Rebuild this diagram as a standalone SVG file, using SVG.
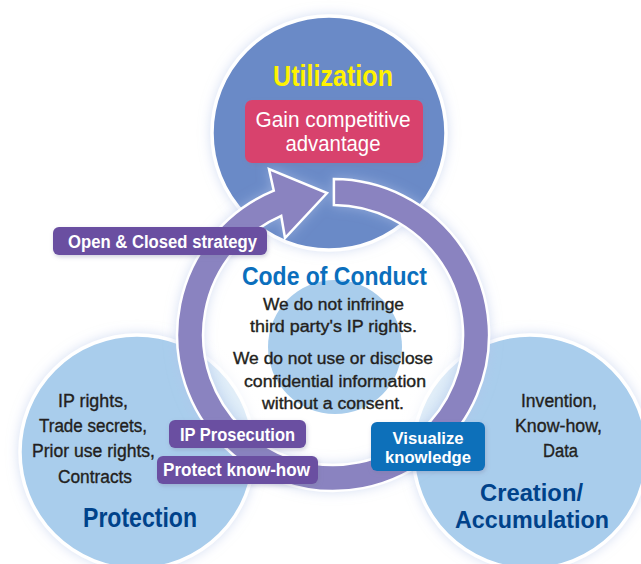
<svg xmlns="http://www.w3.org/2000/svg" width="641" height="564" viewBox="0 0 641 564">
<defs>
<style>
.t{font-family:"Liberation Sans",Arial,sans-serif;text-anchor:middle}
.b{font-weight:bold}
.body{font-size:16px;fill:#231f20;stroke:#231f20;stroke-width:0.35}
.item{font-size:18px;fill:#231f20;stroke:#231f20;stroke-width:0.35}
.lab{font-size:18px;font-weight:bold;fill:#ffffff}
.big{font-size:27px;font-weight:bold;fill:#00428a}
.circ{stroke:#ffffff;stroke-width:3.5}
.pbox{fill:#6a4fa1}
</style>
<filter id="glow" x="-25%" y="-25%" width="150%" height="150%">
<feGaussianBlur in="SourceAlpha" stdDeviation="6"/>
<feColorMatrix type="matrix" values="0 0 0 0 0.45 0 0 0 0 0.55 0 0 0 0 0.82 0 0 0 0.55 0"/>
<feMerge><feMergeNode/><feMergeNode in="SourceGraphic"/></feMerge>
</filter>
<filter id="sh" x="-20%" y="-30%" width="140%" height="170%">
<feGaussianBlur in="SourceAlpha" stdDeviation="2"/>
<feOffset dx="1" dy="2"/>
<feColorMatrix type="matrix" values="0 0 0 0 0.2 0 0 0 0 0.2 0 0 0 0 0.35 0 0 0 0.35 0"/>
<feMerge><feMergeNode/><feMergeNode in="SourceGraphic"/></feMerge>
</filter>
<radialGradient id="wg" cx="0.5" cy="0.5" r="0.5">
<stop offset="0" stop-color="#ffffff" stop-opacity="1"/>
<stop offset="0.62" stop-color="#ffffff" stop-opacity="1"/>
<stop offset="1" stop-color="#ffffff" stop-opacity="0.5"/>
</radialGradient>
</defs>
<rect width="641" height="564" fill="#ffffff"/>

<g id="protection">
<circle class="circ" cx="137" cy="452" r="117" fill="#a9cdec" filter="url(#glow)"/>
</g>
<g id="creation">
<circle class="circ" cx="530" cy="452" r="117" fill="#a9cdec" filter="url(#glow)"/>
</g>
<g id="code-of-conduct-bg">
<circle cx="333" cy="335" r="131" fill="url(#wg)"/>
<circle cx="335" cy="347" r="67" fill="#a9cdec"/>
</g>
<g id="utilization">
<circle class="circ" cx="329" cy="133" r="117" fill="#6a8ac7" filter="url(#glow)"/>
</g>

<g id="connectors">
<path d="M333.9,179 A156,156 0 1,1 273.8,190.7 L269,169 L327,193 L285,238 L281.2,215.8 A130,130 0 1,0 333.9,205 Z" fill="#8a83c0" stroke="#ffffff" stroke-width="2.5" stroke-linejoin="miter" filter="url(#glow)"/>
</g>

<g id="utilization-text">
<text class="t b" x="333" y="86" font-size="30" fill="#fff200" textLength="120" lengthAdjust="spacingAndGlyphs">Utilization</text>
<rect x="245" y="100" width="178" height="63" rx="7" fill="#d8436d" filter="url(#sh)"/>
<text class="t" x="333" y="127" font-size="22" fill="#ffffff" textLength="155" lengthAdjust="spacingAndGlyphs">Gain competitive</text>
<text class="t" x="333" y="151" font-size="22" fill="#ffffff" textLength="95" lengthAdjust="spacingAndGlyphs">advantage</text>
</g>

<g id="open-closed">
<rect class="pbox" x="53" y="227" width="214" height="28" rx="6" filter="url(#sh)"/>
<text class="t lab" x="162.5" y="248" textLength="189" lengthAdjust="spacingAndGlyphs">Open &amp; Closed strategy</text>
</g>

<g id="code-of-conduct">
<text class="t b" x="334.5" y="285" font-size="25" fill="#0b6fbd" textLength="185" lengthAdjust="spacingAndGlyphs">Code of Conduct</text>
<text class="t body" x="333.5" y="310" textLength="141" lengthAdjust="spacingAndGlyphs">We do not infringe</text>
<text class="t body" x="333.5" y="332" textLength="167" lengthAdjust="spacingAndGlyphs">third party's IP rights.</text>
<text class="t body" x="333" y="364" textLength="200" lengthAdjust="spacingAndGlyphs">We do not use or disclose</text>
<text class="t body" x="335" y="387" textLength="182" lengthAdjust="spacingAndGlyphs">confidential information</text>
<text class="t body" x="333" y="409" textLength="142" lengthAdjust="spacingAndGlyphs">without a consent.</text>
</g>

<g id="protection-text">
<text class="t item" x="93" y="407" textLength="70" lengthAdjust="spacingAndGlyphs">IP rights,</text>
<text class="t item" x="93" y="432" textLength="108" lengthAdjust="spacingAndGlyphs">Trade secrets,</text>
<text class="t item" x="93.5" y="457" textLength="123" lengthAdjust="spacingAndGlyphs">Prior use rights,</text>
<text class="t item" x="95" y="483" textLength="74" lengthAdjust="spacingAndGlyphs">Contracts</text>
<text class="t big" x="140" y="527" textLength="114" lengthAdjust="spacingAndGlyphs">Protection</text>
</g>

<g id="creation-text">
<text class="t item" x="559" y="407" textLength="76" lengthAdjust="spacingAndGlyphs">Invention,</text>
<text class="t item" x="558.5" y="432" textLength="87" lengthAdjust="spacingAndGlyphs">Know-how,</text>
<text class="t item" x="560.5" y="457" textLength="35" lengthAdjust="spacingAndGlyphs">Data</text>
<text class="t b" x="531.5" y="501" font-size="24" fill="#00428a" textLength="103" lengthAdjust="spacingAndGlyphs">Creation/</text>
<text class="t b" x="532" y="528" font-size="24" fill="#00428a" textLength="154" lengthAdjust="spacingAndGlyphs">Accumulation</text>
</g>

<g id="ip-prosecution">
<rect class="pbox" x="169" y="420" width="137" height="28" rx="6" filter="url(#sh)"/>
<text class="t lab" x="237.5" y="441" textLength="115" lengthAdjust="spacingAndGlyphs">IP Prosecution</text>
</g>

<g id="protect-know-how">
<rect class="pbox" x="157" y="456" width="161" height="28" rx="6" filter="url(#sh)"/>
<text class="t lab" x="236.5" y="476" textLength="147" lengthAdjust="spacingAndGlyphs">Protect know-how</text>
</g>

<g id="visualize-knowledge">
<rect x="371" y="422" width="114" height="49" rx="6" fill="#0a6fba" filter="url(#sh)"/>
<text class="t b" x="428" y="444" font-size="16.5" fill="#ffffff" textLength="71" lengthAdjust="spacingAndGlyphs">Visualize</text>
<text class="t b" x="428" y="463" font-size="16.5" fill="#ffffff" textLength="86" lengthAdjust="spacingAndGlyphs">knowledge</text>
</g>
</svg>
